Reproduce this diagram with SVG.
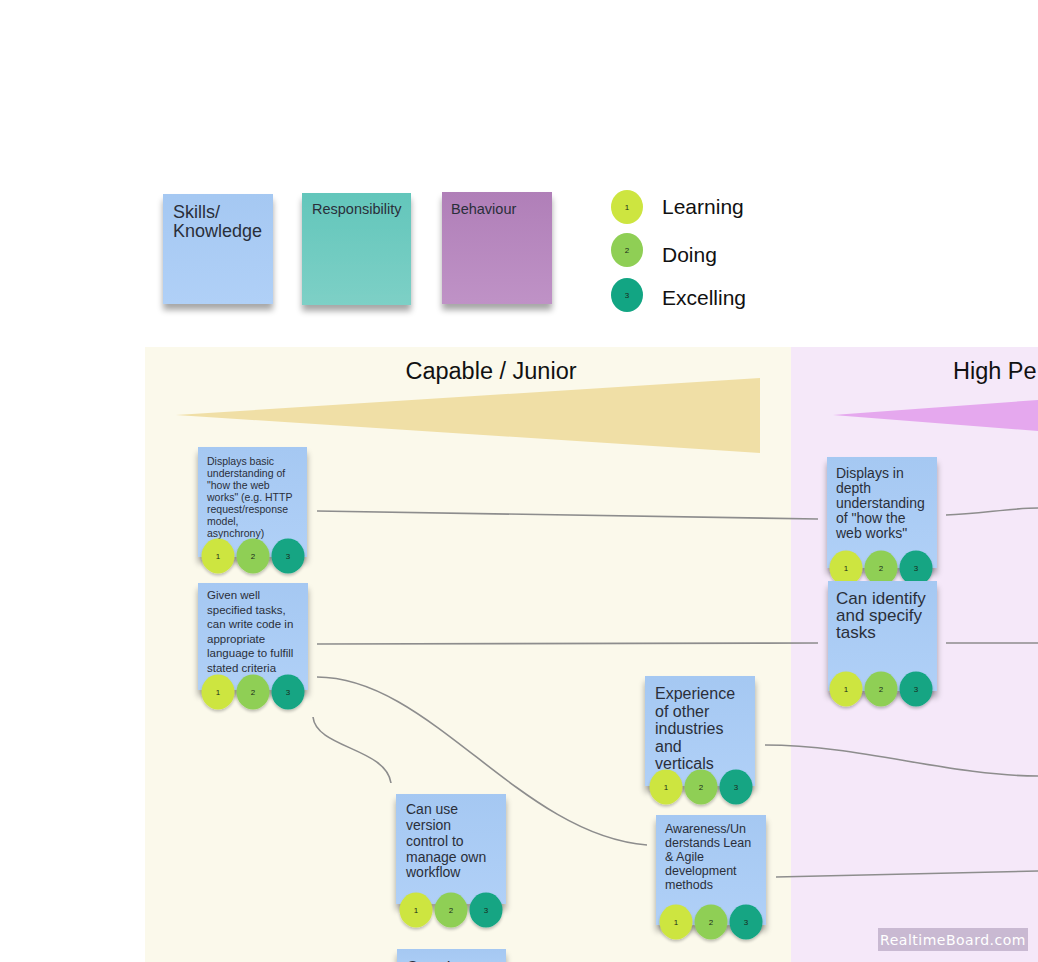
<svg xmlns="http://www.w3.org/2000/svg" width="1038" height="962" viewBox="0 0 1038 962">
<defs>
<linearGradient id="gBlue" x1="0" y1="0" x2="0" y2="1"><stop offset="0" stop-color="#a5c8f2"/><stop offset="1" stop-color="#b0d0f7"/></linearGradient>
<linearGradient id="gTeal" x1="0" y1="0" x2="0" y2="1"><stop offset="0" stop-color="#63c6bb"/><stop offset="1" stop-color="#7dd0c6"/></linearGradient>
<linearGradient id="gPurple" x1="0" y1="0" x2="0" y2="1"><stop offset="0" stop-color="#b07fb8"/><stop offset="1" stop-color="#bf92c6"/></linearGradient>
<filter id="shadow" x="-20%" y="-20%" width="140%" height="150%"><feGaussianBlur in="SourceAlpha" stdDeviation="3"/><feOffset dx="0" dy="6"/><feComponentTransfer><feFuncA type="linear" slope="0.35"/></feComponentTransfer><feMerge><feMergeNode/><feMergeNode in="SourceGraphic"/></feMerge></filter>
<filter id="cshadow" x="-30%" y="-30%" width="160%" height="160%"><feGaussianBlur in="SourceAlpha" stdDeviation="1.5"/><feOffset dx="0" dy="2"/><feComponentTransfer><feFuncA type="linear" slope="0.25"/></feComponentTransfer><feMerge><feMergeNode/><feMergeNode in="SourceGraphic"/></feMerge></filter>
</defs>
<style>
text{font-family:"Liberation Sans",Arial,sans-serif;fill:#2a2f3a}
.sticky{fill:url(#gBlue);filter:url(#shadow)}
.c1{fill:#cde540}
.c2{fill:#8fcf55}
.c3{fill:#12a583}
.cn{font-size:8px;text-anchor:middle;fill:#1a2a1a}
.conn{fill:none;stroke:#8d8d8d;stroke-width:1.6}
.leg{font-size:21px;fill:#111}
.title{font-size:23.5px;fill:#111}
</style>
<rect width="1038" height="962" fill="#ffffff"/>
<g id="legend">
<g id="legend-skills"><rect x="163" y="194" width="110" height="110" fill="url(#gBlue)" filter="url(#shadow)"/><text x="173" y="218" font-size="18">Skills/</text><text x="173" y="237" font-size="18">Knowledge</text></g>
<g id="legend-responsibility"><rect x="302" y="193" width="109" height="112" fill="url(#gTeal)" filter="url(#shadow)"/><text x="312" y="214" font-size="14.5">Responsibility</text></g>
<g id="legend-behaviour"><rect x="442" y="192" width="110" height="112" fill="url(#gPurple)" filter="url(#shadow)"/><text x="451" y="214" font-size="14.5">Behaviour</text></g>
<g id="legend-learning"><ellipse cx="627" cy="207" rx="16" ry="17" class="c1"/><text x="627" y="210" class="cn">1</text><text x="662" y="214" class="leg">Learning</text></g>
<g id="legend-doing"><ellipse cx="627" cy="250" rx="16" ry="17" class="c2"/><text x="627" y="253" class="cn">2</text><text x="662" y="262" class="leg">Doing</text></g>
<g id="legend-excelling"><ellipse cx="627" cy="295" rx="16" ry="17" class="c3"/><text x="627" y="298" class="cn">3</text><text x="662" y="305" class="leg">Excelling</text></g>
</g>
<g id="panels">
<rect x="145" y="347" width="646" height="615" fill="#fbf9eb"/>
<rect x="791" y="347" width="247" height="615" fill="#f5e8f9"/>
<text x="491" y="379" class="title" text-anchor="middle">Capable / Junior</text>
<text x="953" y="379" class="title">High Pe</text>
<polygon points="176,415 760,378 760,453" fill="#f0dfa6"/>
<polygon points="833,415 1038,400 1038,431" fill="#e5a8ee"/>
</g>
<g id="connectors">
<path class="conn" d="M317,511 L818,519"/>
<path class="conn" d="M946,515 C980,514 1010,508 1038,508"/>
<path class="conn" d="M317,644 L818,643"/>
<path class="conn" d="M946,643 L1038,643"/>
<path class="conn" d="M317,677 C430,677 520,835 647,845"/>
<path class="conn" d="M313,717 C316,748 386,748 391,783"/>
<path class="conn" d="M765,745 C860,745 950,776 1038,776"/>
<path class="conn" d="M776,877 L1038,871"/>
</g>
<g id="node-basic-web">
<rect x="198" y="447" width="109" height="110" class="sticky"/>
<text font-size="10.5"><tspan x="207" y="465">Displays basic</tspan><tspan x="207" y="477">understanding of</tspan><tspan x="207" y="489">"how the web</tspan><tspan x="207" y="501">works" (e.g. HTTP</tspan><tspan x="207" y="513">request/response</tspan><tspan x="207" y="525">model,</tspan><tspan x="207" y="537">asynchrony)</tspan></text>
<g filter="url(#cshadow)"><ellipse cx="218" cy="556" rx="16.5" ry="17.5" class="c1"/><ellipse cx="253" cy="556" rx="16.5" ry="17.5" class="c2"/><ellipse cx="288" cy="556" rx="16.5" ry="17.5" class="c3"/></g>
<text x="218" y="559" class="cn">1</text><text x="253" y="559" class="cn">2</text><text x="288" y="559" class="cn">3</text>
</g>
<g id="node-write-code">
<rect x="198" y="583" width="110" height="107" class="sticky"/>
<text font-size="11.5"><tspan x="207" y="599">Given well</tspan><tspan x="207" y="613.5">specified tasks,</tspan><tspan x="207" y="628">can write code in</tspan><tspan x="207" y="642.5">appropriate</tspan><tspan x="207" y="657">language to fulfill</tspan><tspan x="207" y="671.5">stated criteria</tspan></text>
<g filter="url(#cshadow)"><ellipse cx="218" cy="692" rx="16.5" ry="17.5" class="c1"/><ellipse cx="253" cy="692" rx="16.5" ry="17.5" class="c2"/><ellipse cx="288" cy="692" rx="16.5" ry="17.5" class="c3"/></g>
<text x="218" y="695" class="cn">1</text><text x="253" y="695" class="cn">2</text><text x="288" y="695" class="cn">3</text>
</g>
<g id="node-in-depth-web">
<rect x="827" y="457" width="110" height="111" class="sticky"/>
<text font-size="14"><tspan x="836" y="478">Displays in</tspan><tspan x="836" y="493">depth</tspan><tspan x="836" y="508">understanding</tspan><tspan x="836" y="523">of "how the</tspan><tspan x="836" y="538">web works"</tspan></text>
<g filter="url(#cshadow)"><ellipse cx="846" cy="568" rx="16.5" ry="17.5" class="c1"/><ellipse cx="881" cy="568" rx="16.5" ry="17.5" class="c2"/><ellipse cx="916" cy="568" rx="16.5" ry="17.5" class="c3"/></g>
<text x="846" y="571" class="cn">1</text><text x="881" y="571" class="cn">2</text><text x="916" y="571" class="cn">3</text>
</g>
<g id="node-identify-tasks">
<rect x="828" y="581" width="109" height="110" class="sticky"/>
<text font-size="17"><tspan x="836" y="604">Can identify</tspan><tspan x="836" y="621">and specify</tspan><tspan x="836" y="638">tasks</tspan></text>
<g filter="url(#cshadow)"><ellipse cx="846" cy="689" rx="16.5" ry="17.5" class="c1"/><ellipse cx="881" cy="689" rx="16.5" ry="17.5" class="c2"/><ellipse cx="916" cy="689" rx="16.5" ry="17.5" class="c3"/></g>
<text x="846" y="692" class="cn">1</text><text x="881" y="692" class="cn">2</text><text x="916" y="692" class="cn">3</text>
</g>
<g id="node-other-industries">
<rect x="645" y="676" width="110" height="110" class="sticky"/>
<text font-size="16"><tspan x="655" y="699">Experience</tspan><tspan x="655" y="716.5">of other</tspan><tspan x="655" y="734">industries</tspan><tspan x="655" y="751.5">and</tspan><tspan x="655" y="769">verticals</tspan></text>
<g filter="url(#cshadow)"><ellipse cx="666" cy="787" rx="16.5" ry="17.5" class="c1"/><ellipse cx="701" cy="787" rx="16.5" ry="17.5" class="c2"/><ellipse cx="736" cy="787" rx="16.5" ry="17.5" class="c3"/></g>
<text x="666" y="790" class="cn">1</text><text x="701" y="790" class="cn">2</text><text x="736" y="790" class="cn">3</text>
</g>
<g id="node-lean-agile">
<rect x="656" y="815" width="110" height="110" class="sticky"/>
<text font-size="12.5"><tspan x="665" y="833">Awareness/Un</tspan><tspan x="665" y="847">derstands Lean</tspan><tspan x="665" y="861">&amp; Agile</tspan><tspan x="665" y="875">development</tspan><tspan x="665" y="889">methods</tspan></text>
<g filter="url(#cshadow)"><ellipse cx="676" cy="922" rx="16.5" ry="17.5" class="c1"/><ellipse cx="711" cy="922" rx="16.5" ry="17.5" class="c2"/><ellipse cx="746" cy="922" rx="16.5" ry="17.5" class="c3"/></g>
<text x="676" y="925" class="cn">1</text><text x="711" y="925" class="cn">2</text><text x="746" y="925" class="cn">3</text>
</g>
<g id="node-version-control">
<rect x="396" y="794" width="110" height="110" class="sticky"/>
<text font-size="14"><tspan x="406" y="814">Can use</tspan><tspan x="406" y="830">version</tspan><tspan x="406" y="846">control to</tspan><tspan x="406" y="862">manage own</tspan><tspan x="406" y="877">workflow</tspan></text>
<g filter="url(#cshadow)"><ellipse cx="416" cy="910" rx="16.5" ry="17.5" class="c1"/><ellipse cx="451" cy="910" rx="16.5" ry="17.5" class="c2"/><ellipse cx="486" cy="910" rx="16.5" ry="17.5" class="c3"/></g>
<text x="416" y="913" class="cn">1</text><text x="451" y="913" class="cn">2</text><text x="486" y="913" class="cn">3</text>
</g>
<g id="node-partial">
<rect x="397" y="949" width="109" height="30" class="sticky"/>
<text x="406" y="973" font-size="17">Can the</text>
</g>
<g id="watermark">
<rect x="878" y="928" width="150" height="23" fill="#c9b9d2"/>
<text x="953" y="945" font-size="14" text-anchor="middle" style="fill:#ffffff;font-family:'DejaVu Sans',sans-serif" letter-spacing="0.5">RealtimeBoard.com</text>
</g>
</svg>
